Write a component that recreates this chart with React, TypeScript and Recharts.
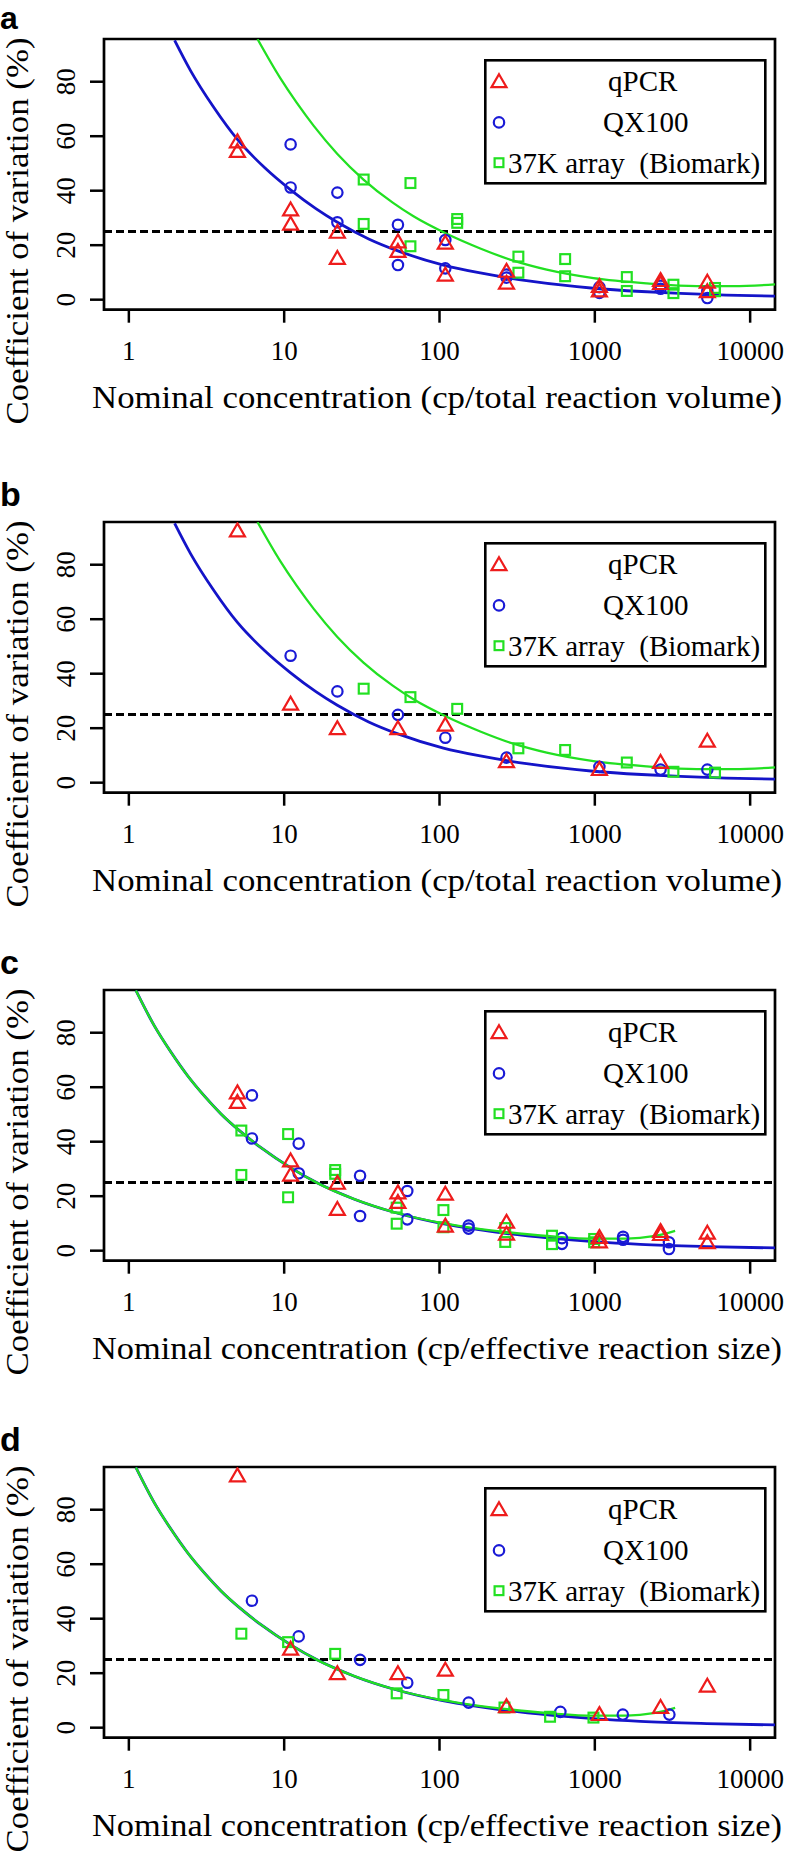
import {
  ComposedChart, Scatter, Line, XAxis, YAxis, ReferenceLine, ReferenceArea, Legend, Label,
} from "recharts";

const SERIF = '"Liberation Serif", "Times New Roman", serif';
const SANS = '"Liberation Sans", Arial, sans-serif';
const RED = "#ee1c1c";
const BLUE = "#1a1ad6";
const GREEN = "#22e022";

// R-style axis limits: xlim 1..10000 (log), ylim 0..92, each padded 4%
const X_MIN = 0.6918;
const X_MAX = 14454;
const Y_MIN = -3.68;
const Y_MAX = 95.68;
const xTicks = [1, 10, 100, 1000, 10000];
const yTicks = [0, 20, 40, 60, 80];
const legendLabels = ["qPCR", "QX100", "37K array  (Biomark)"];
const xTitles = [
  "Nominal concentration (cp/total reaction volume)",
  "Nominal concentration (cp/effective reaction size)",
];
const yTitle = "Coefficient of variation (%)";

// panels a / c : replicate measurements
const qpcrAllX = [5, 5, 11, 11, 22, 22, 54, 54, 109, 109, 270, 270, 1070, 1070, 2650, 2650, 5300, 5300];
const qpcrAllY = [57.5, 54, 32.5, 27.3, 24.3, 14.7, 20.8, 17.3, 20.3, 8.6, 10, 5.6, 4.4, 2.8, 6.6, 5.5, 6.0, 2.5];
const qxAllX_a = [11, 11, 22, 22, 54, 54, 109, 109, 270, 270, 1070, 1070, 2650, 2650, 5300, 5300];
const qxAllX_c = [6.2, 6.2, 12.4, 12.4, 30.8, 30.8, 62, 62, 154, 154, 614, 614, 1520, 1520, 3000, 3000];
const qxAllY = [57, 41.2, 39.3, 28.4, 27.5, 12.7, 21.9, 11.5, 9.2, 8.1, 4.6, 2.5, 5.1, 4.0, 3.1, 0.6];
const bioAllX_a = [32.5, 32.5, 65, 65, 130, 130, 322, 322, 644, 644, 1607, 1607, 3206, 3206, 5940, 5940];
const bioAllX_c = [5.3, 5.3, 10.6, 10.6, 21.3, 21.3, 53, 53, 106, 106, 265, 265, 530, 530, 990, 990];
const bioAllY = [44.1, 27.8, 42.8, 19.6, 29.6, 28.2, 15.8, 9.9, 14.9, 8.6, 8.3, 3.2, 5.5, 2.4, 4.3, 3.1];

// panels b / d : averaged values
const qpcrMeanX = [5, 11, 22, 54, 109, 270, 1070, 2650, 5300];
const qpcrMeanY = [92, 28.4, 19.4, 19.4, 20.7, 7.3, 4.4, 7.0, 14.8];
const qxMeanX_b = [11, 22, 54, 109, 270, 1070, 2650, 5300];
const qxMeanX_d = [6.2, 12.4, 30.8, 62, 154, 600, 1514, 3020];
const qxMeanY = [46.6, 33.5, 24.9, 16.5, 9.2, 5.8, 4.8, 4.8];
const bioMeanX_b = [32.5, 65, 130, 322, 644, 1607, 3206, 5940];
const bioMeanX_d = [5.3, 10.6, 21.3, 53, 106, 262, 515, 980];
const bioMeanY = [34.5, 31.4, 27.1, 12.6, 12.0, 7.4, 4.0, 3.7];

// fitted curves
const blueFitX_ab = [1.97, 2.5, 3.5, 5, 7.5, 11, 16, 22, 35, 54, 106, 183, 384, 980, 2000, 3540, 7000, 14450];
const blueFitY_ab = [95.2, 84, 70.8, 58.8, 48.4, 40.3, 33.4, 28.4, 22.3, 17.9, 12.7, 9.8, 6.8, 4.2, 3.0, 2.3, 1.7, 1.3];
const greenFitX_ab = [6.74, 9.44, 12, 15.5, 22, 32.4, 50, 68, 112, 183, 299, 490, 980, 2160, 4530, 7800, 14450];
const greenFitY_ab = [95.6, 81.3, 72.4, 63.8, 53.5, 44.1, 35.6, 30.6, 24.1, 18.8, 14.3, 11, 7.9, 6.0, 5.0, 5.0, 5.6];
const blueFitX_cd = [1.11, 1.46, 1.87, 2.39, 3.06, 3.92, 5.27, 7.09, 11.1, 16.4, 28.3, 51, 107, 166, 272, 516, 980, 1960, 5260, 14450];
const blueFitY_cd = [95.5, 82.5, 72.8, 64.2, 56.8, 50.2, 43.6, 37.8, 30.3, 24.8, 18.9, 14.1, 9.8, 8.0, 6.3, 4.6, 3.3, 2.3, 1.5, 1.0];
const greenFitX_cd = [1.11, 1.46, 1.87, 2.39, 3.06, 3.92, 5.27, 7.09, 11.1, 16.4, 28.3, 51, 107, 166, 272, 516, 980, 1606, 2384, 3290];
const greenFitY_cd = [95.5, 82.5, 72.8, 64.2, 56.8, 50.2, 43.6, 37.8, 30.3, 24.8, 18.9, 14.1, 10, 8.3, 6.8, 5.3, 4.4, 4.4, 5.3, 7.3];

const zip = (xs: number[], ys: number[]) => xs.map((x, i) => ({ x, y: ys[i] }));

const panels = [
  { letter: "a", top: 39.3, letterY: 29, letterSize: 32, xTitle: xTitles[0],
    qpcr: zip(qpcrAllX, qpcrAllY), qx: zip(qxAllX_a, qxAllY), bio: zip(bioAllX_a, bioAllY),
    blue: zip(blueFitX_ab, blueFitY_ab), green: zip(greenFitX_ab, greenFitY_ab) },
  { letter: "b", top: 521.7, letterY: 0, letterSize: 34, xTitle: xTitles[0],
    qpcr: zip(qpcrMeanX, qpcrMeanY), qx: zip(qxMeanX_b, qxMeanY), bio: zip(bioMeanX_b, bioMeanY),
    blue: zip(blueFitX_ab, blueFitY_ab), green: zip(greenFitX_ab, greenFitY_ab) },
  { letter: "c", top: 990, letterY: 0, letterSize: 34, xTitle: xTitles[1],
    qpcr: zip(qpcrAllX, qpcrAllY), qx: zip(qxAllX_c, qxAllY), bio: zip(bioAllX_c, bioAllY),
    blue: zip(blueFitX_cd, blueFitY_cd), green: zip(greenFitX_cd, greenFitY_cd) },
  { letter: "d", top: 1467.3, letterY: 0, letterSize: 34, xTitle: xTitles[1],
    qpcr: zip(qpcrMeanX, qpcrMeanY), qx: zip(qxMeanX_d, qxMeanY), bio: zip(bioMeanX_d, bioMeanY),
    blue: zip(blueFitX_cd, blueFitY_cd), green: zip(greenFitX_cd, greenFitY_cd) },
];

// chart-local geometry
const PAD_TOP = 50;
const PLOT_H = 270.7;
const CHART_H = 450;
const X_AXIS_H = 100;

const Tri = ({ cx, cy, color = RED }: any) => (
  <polygon
    points={`${cx},${cy - 8.6} ${cx + 7.5},${cy + 4.3} ${cx - 7.5},${cy + 4.3}`}
    fill="none" stroke={color} strokeWidth={2.2}
  />
);
const Circ = ({ cx, cy }: any) => (
  <circle cx={cx} cy={cy} r={5.2} fill="none" stroke={BLUE} strokeWidth={2.2} />
);
const Sq = ({ cx, cy, s = 4.9 }: any) => (
  <rect x={cx - s} y={cy - s} width={2 * s} height={2 * s} fill="none" stroke={GREEN} strokeWidth={2.2} />
);

const XTick = ({ x, payload }: any) => (
  <text x={x} y={PAD_TOP + 321} textAnchor="middle" fontFamily={SERIF} fontSize={27} fill="#000">
    {payload.value}
  </text>
);
const YTick = ({ y, payload }: any) => (
  <text x={75} y={y} transform={`rotate(-90, 75, ${y})`} textAnchor="middle" fontFamily={SERIF} fontSize={27} fill="#000">
    {payload.value}
  </text>
);

function LegendBox() {
  const rows = [21.4, 62.4, 102.7];
  return (
    <svg width={284} height={127} style={{ display: "block" }}>
      <rect x={1.3} y={1.3} width={280} height={123} fill="#fff" stroke="#000" strokeWidth={2.6} />
      <g transform="translate(1,1)">
        <Tri cx={14} cy={rows[0] + 1.5} />
        <Circ cx={14} cy={rows[1]} />
        <Sq cx={14} cy={rows[2]} s={4.4} />
      </g>
      <text x={124} y={rows[0] + 11} fontFamily={SERIF} fontSize={29} fill="#000">{legendLabels[0]}</text>
      <text x={119} y={rows[1] + 11} fontFamily={SERIF} fontSize={29} fill="#000">{legendLabels[1]}</text>
      <text x={24} y={rows[2] + 11} fontFamily={SERIF} fontSize={29} fill="#000" style={{ whiteSpace: "pre" }}>
        {legendLabels[2]}
      </text>
    </svg>
  );
}

function Panel({ p }: { p: (typeof panels)[number] }) {
  // panel letter baseline (chart-local); "a" is kept fully inside the page
  const letterBase = p.letterY ? p.letterY - (p.top - PAD_TOP) : PAD_TOP - 16;
  return (
    <div style={{ position: "absolute", left: 0, top: p.top - PAD_TOP, width: 788, height: CHART_H }}>
      <ComposedChart
        width={788}
        height={CHART_H}
        margin={{ top: PAD_TOP, right: 13, bottom: CHART_H - PAD_TOP - PLOT_H - X_AXIS_H, left: 0 }}
      >
        <XAxis
          type="number" dataKey="x" scale="log" domain={[X_MIN, X_MAX]} allowDataOverflow
          ticks={xTicks} interval={0} height={X_AXIS_H} axisLine={false} tickSize={13}
          tickLine={{ stroke: "#000", strokeWidth: 2.5 }} tick={<XTick />}
        >
          <Label
            content={() => (
              <text x={437} y={PAD_TOP + 369} textAnchor="middle" fontFamily={SERIF} fontSize={32}
                textLength={690} lengthAdjust="spacingAndGlyphs" fill="#000">
                {p.xTitle}
              </text>
            )}
          />
        </XAxis>
        <YAxis
          type="number" dataKey="y" domain={[Y_MIN, Y_MAX]} allowDataOverflow
          ticks={yTicks} interval={0} width={104} axisLine={false} tickSize={14}
          tickLine={{ stroke: "#000", strokeWidth: 2.5 }} tick={<YTick />}
        >
          <Label
            content={() => (
              <g>
                <text x={28} y={PAD_TOP + 192} transform={`rotate(-90, 28, ${PAD_TOP + 192})`}
                  textAnchor="middle" fontFamily={SERIF} fontSize={31} textLength={387}
                  lengthAdjust="spacingAndGlyphs" fill="#000">
                  {yTitle}
                </text>
                <text x={0} y={letterBase} fontFamily={SANS} fontWeight="bold" fontSize={p.letterSize} fill="#000">
                  {p.letter}
                </text>
              </g>
            )}
          />
        </YAxis>
        <ReferenceArea
          x1={X_MIN} x2={X_MAX} y1={Y_MIN} y2={Y_MAX} ifOverflow="visible"
          fill="none" fillOpacity={0} stroke="#000" strokeWidth={2.7}
        />
        <ReferenceLine y={25} stroke="#000" strokeWidth={3} strokeDasharray="8 4" />
        <Line data={p.blue} dataKey="y" type="monotone" stroke="#1414c8" strokeWidth={2.8}
          dot={false} activeDot={false} isAnimationActive={false} />
        <Line data={p.green} dataKey="y" type="monotone" stroke={GREEN} strokeWidth={2.3}
          dot={false} activeDot={false} isAnimationActive={false} />
        <Scatter data={p.qx} dataKey="y" shape={(s: any) => <Circ cx={s.cx} cy={s.cy} />} isAnimationActive={false} />
        <Scatter data={p.bio} dataKey="y" shape={(s: any) => <Sq cx={s.cx} cy={s.cy} />} isAnimationActive={false} />
        <Scatter data={p.qpcr} dataKey="y" shape={(s: any) => <Tri cx={s.cx} cy={s.cy} />} isAnimationActive={false} />
        <Legend
          layout="vertical" align="center" verticalAlign="middle"
          content={() => <LegendBox />}
          wrapperStyle={{ position: "absolute", left: 484, top: PAD_TOP + 20, width: 284, height: 127 }}
        />
      </ComposedChart>
    </div>
  );
}

export default function App() {
  return (
    <div style={{ position: "absolute", left: 0, top: 0, width: 788, height: 1852, overflow: "hidden", background: "#fff" }}>
      {panels.map((p) => (
        <Panel key={p.letter} p={p} />
      ))}
    </div>
  );
}
